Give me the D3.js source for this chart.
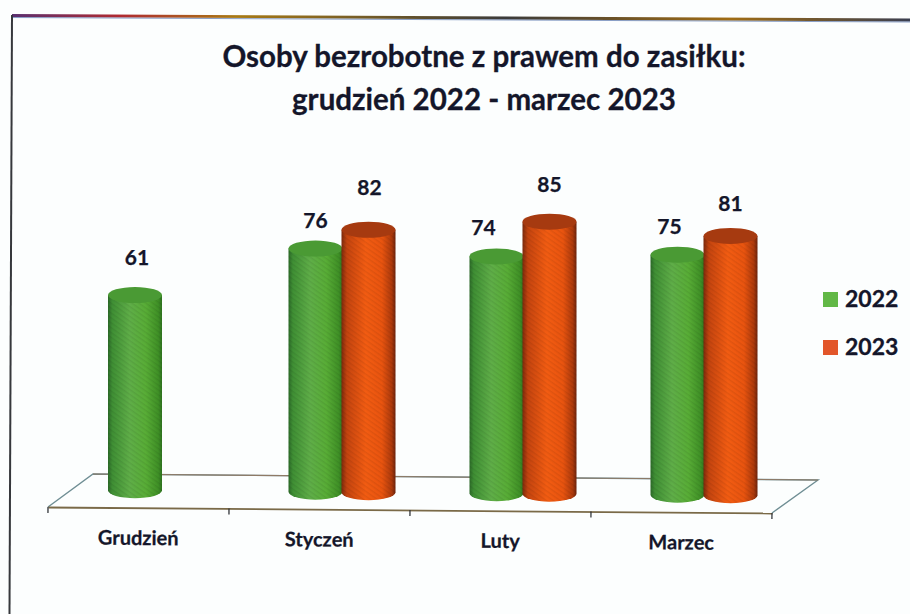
<!DOCTYPE html>
<html><head><meta charset="utf-8">
<script src="https://cdn.jsdelivr.net/npm/d3@7/dist/d3.min.js"></script>
<style>html,body{margin:0;padding:0;background:#fcfefe}svg{display:block}</style></head>
<body><svg id="c" width="910" height="614"></svg>
<script>
const titleLines = ["Osoby bezrobotne z prawem do zasiłku:", "grudzień 2022 - marzec 2023"];
const months = ["Grudzień", "Styczeń", "Luty", "Marzec"];
const seriesNames = ["2022", "2023"];
const values2022 = [61, 76, 74, 75];
const values2023 = [null, 82, 85, 81];

const svg = d3.select("#c");
const font = "Lato, Carlito, 'Open Sans', sans-serif";
const ink = "#14162a";
const defs = svg.append("defs");

function grad(id, stops) {
  const g = defs.append("linearGradient").attr("id", id).attr("x1", 0).attr("x2", 1);
  stops.forEach(s => g.append("stop").attr("offset", s[0]).attr("stop-color", s[1]));
}
grad("g2022", [[0,"#2c6a28"],[.08,"#3f8f34"],[.4,"#5fae48"],[.7,"#58ad36"],[.93,"#3f9026"],[1,"#2f7420"]]);
grad("g2023", [[0,"#7d2a0c"],[.1,"#c4440f"],[.45,"#f25c12"],[.75,"#e9540f"],[.93,"#ad3a0c"],[1,"#6e240c"]]);
grad("frameTop", [[0,"#5a2f70"],[.12,"#b02a30"],[.25,"#a87a14"],[.55,"#3a3a3a"],[.8,"#a06c14"],[1,"#3a3f50"]]);
// scan-like halftone texture over the cylinders
const pat = defs.append("pattern").attr("id","scan").attr("width",4).attr("height",4)
  .attr("patternUnits","userSpaceOnUse").attr("patternTransform","rotate(35)");
pat.append("rect").attr("width",4).attr("height",1.4).attr("fill","#000").attr("opacity",.07);
const capColor = ["#4a9a34", "#a63a10"];
const fills = ["url(#g2022)", "url(#g2023)"];
const legendColor = ["#62b846", "#e2562a"];

// frame
svg.append("path").attr("d", d3.line()([[12,15.5],[910,20]])).attr("stroke","url(#frameTop)").attr("stroke-width",2.8).attr("fill","none");
svg.append("line").attr("x1",12).attr("y1",17.5).attr("x2",910).attr("y2",22).attr("stroke","#5a78b0").attr("stroke-width",1).attr("opacity",.7);
svg.append("line").attr("x1",12).attr("y1",15).attr("x2",9.5).attr("y2",614).attr("stroke","#36383c").attr("stroke-width",2);

// title
svg.append("g").selectAll("text").data(titleLines).join("text")
  .attr("x", 484).attr("y", (d,i) => 67 + i*43)
  .attr("text-anchor","middle").attr("font-family",font).attr("font-weight",700)
  .attr("font-size",29.5).attr("fill",ink).attr("stroke",ink).attr("stroke-width",.3).text(d => d);

// scales
const x = d3.scaleBand().domain(months).range([48,772]);
const tilt = d3.scaleLinear().domain([48,772]).range([507,513]);
const h = d3.scaleLinear().domain([0,100]).range([0,320]);
const barW = 54, capR = 8, floorLift = 17.5;
const barDx = { "2022": [-3.5, -4, -4, -4], "2023": [0, 49, 49, 49] };
const labelDx = { "2022": [2, 0, -13, -8], "2023": [0, 1, 0, 0] };
const labelDy = { "2022": [-30, -20.5, -21, -21], "2023": [0, -35, -30, -25] };

// floor
const floor = d3.line();
svg.append("path").attr("d", floor([[48,507],[93,474],[818,480],[772,513]]))
  .attr("fill","none").attr("stroke","#6f8e94").attr("stroke-width",1.4);
svg.append("path").attr("d", floor([[93,474],[818,480]])).attr("fill","none").attr("stroke","#8f7a66").attr("stroke-width",1.1);

// axis
const angle = Math.atan2(6,724)*180/Math.PI;
const axis = svg.append("g").attr("transform",`translate(0,507) rotate(${angle} 48 0)`)
  .call(d3.axisBottom(x).tickSize(0).tickPadding(23));
axis.select(".domain").attr("stroke","#7a6a48").attr("stroke-width",1.8);
axis.selectAll("text").attr("font-family",font).attr("font-weight",700).attr("font-size",20)
  .attr("fill",ink).attr("stroke",ink).attr("stroke-width",.25);
axis.selectAll(".tick line").remove();
const tickPositions = months.map(m => x(m)).concat([x.range()[1]]);
axis.append("g").selectAll("line").data(tickPositions).join("line")
  .attr("x1",d=>d).attr("x2",d=>d)
  .attr("y1",0).attr("y2",6).attr("stroke","#33363a").attr("stroke-width",1.3);

// cylinders
const allBars = [];
seriesNames.forEach((s,si) => {
  const vals = si===0 ? values2022 : values2023;
  vals.forEach((v,mi) => { if (v!==null) allBars.push({s,si,mi,v,m:months[mi]}); });
});
const bars = svg.append("g");
bars.selectAll("g").data(allBars).join("g").each(function(d){
  const g = d3.select(this);
  const cx = x(d.m) + x.bandwidth()/2 + barDx[d.s][d.mi];
  const base = tilt(cx) - floorLift;
  const top = base - h(d.v);
  const r = barW/2;
  const body = `M${cx-r},${top}L${cx-r},${base}A${r},${capR} 0 0 0 ${cx+r},${base}L${cx+r},${top}Z`;
  g.append("path").attr("fill",fills[d.si]).attr("d",body);
  g.append("path").attr("fill","url(#scan)").attr("d",body);
  g.append("ellipse").attr("cx",cx).attr("cy",top).attr("rx",r).attr("ry",capR).attr("fill",capColor[d.si]);
  svg.append("text").attr("x",cx+labelDx[d.s][d.mi]).attr("y",top+labelDy[d.s][d.mi])
    .attr("text-anchor","middle").attr("font-family",font).attr("font-weight",700)
    .attr("font-size",21).attr("fill",ink).attr("stroke",ink).attr("stroke-width",.25).text(d.v);
});

// legend
const leg = svg.append("g").selectAll("g").data(seriesNames).join("g")
  .attr("transform",(d,i)=>`translate(823,${i?340:292})`);
leg.append("rect").attr("width",15).attr("height",15).attr("fill",(d,i)=>legendColor[i]);
leg.append("text").attr("x",22).attr("y",15).attr("font-family",font).attr("font-weight",700)
  .attr("font-size",23).attr("fill",ink).attr("stroke",ink).attr("stroke-width",.3).text(d=>d);
</script></body></html>
